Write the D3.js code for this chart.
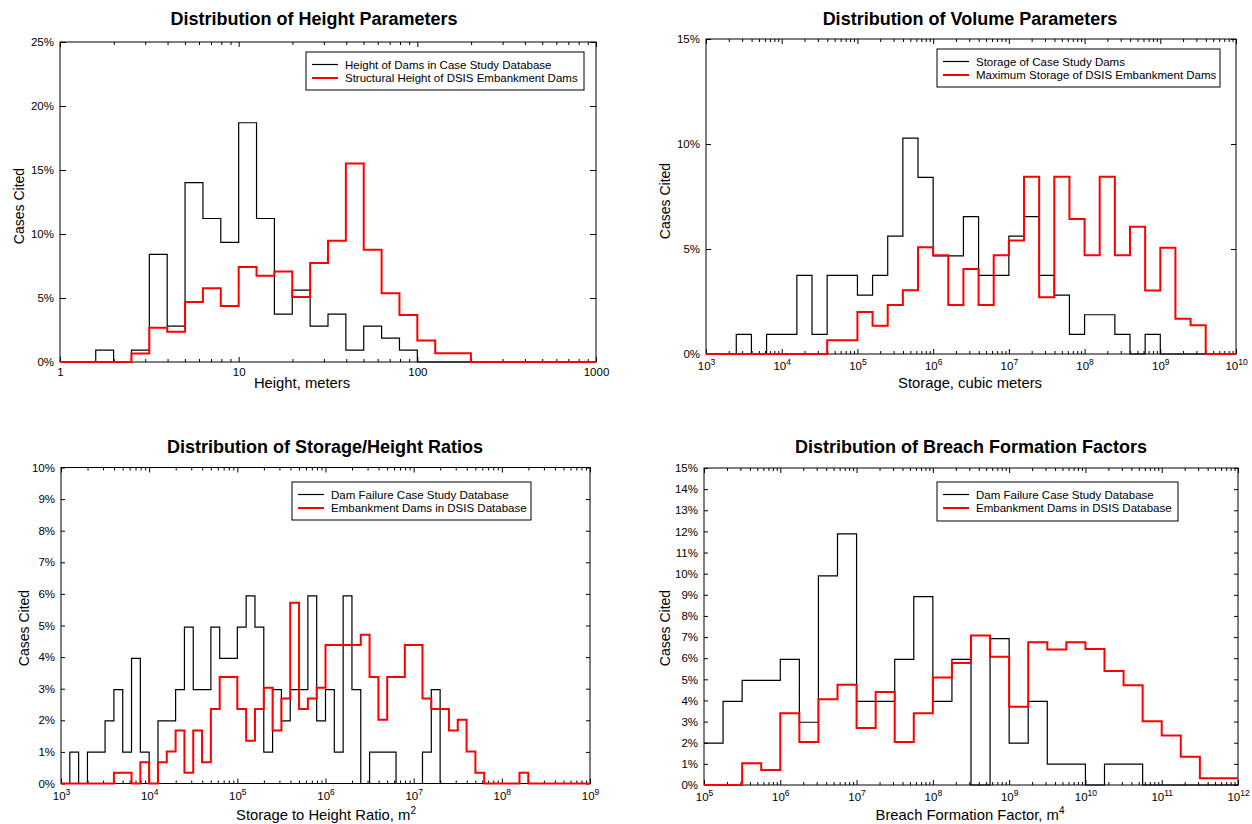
<!DOCTYPE html>
<html><head><meta charset="utf-8">
<script src="https://cdn.jsdelivr.net/npm/d3@7"></script>
<style>
body{margin:0;background:#fff;}
text{font-family:Arial,"Liberation Sans",sans-serif;fill:#000;}
</style></head><body>
<svg id="chart" width="1252" height="824"></svg>
<script>
// ---------- DATA (percent of cases per log bin) ----------
// Panel 1: Height, bins of 0.1 decade from 10^0 to 10^3
const heightCaseStudy = [0,0,0.93,0,0.93,8.41,2.80,14.02,11.21,9.35,18.69,11.21,3.74,5.61,2.80,3.74,0.93,2.80,1.87,0.93,0,0,0,0,0,0,0,0,0,0];
const heightDSIS      = [0,0,0,0,0.66,2.68,2.37,4.68,5.76,4.37,7.42,6.74,7.08,5.08,7.74,9.47,15.5,8.76,5.37,3.68,1.68,0.68,0.68,0,0,0,0,0,0,0];
// Panel 2: Storage, bins of 0.2 decade from 10^3 to 10^10
const volumeCaseStudy = [0,0,0.93,0,0.93,0.93,3.74,0.93,3.74,3.74,2.80,3.74,5.61,10.28,8.41,4.67,4.67,6.54,3.74,3.74,5.61,6.54,3.74,2.80,0.93,1.87,1.87,0.93,0,0.93,0,0,0,0,0];
const volumeDSIS      = [0,0,0,0,0,0,0,0,0.65,0.65,2.0,1.35,2.33,3.03,5.08,4.7,2.33,4.05,2.33,4.7,5.4,8.44,2.7,8.44,6.43,4.7,8.44,4.7,6.06,3.02,5.06,1.68,1.37,0,0];
// Panel 3: Storage/height ratio, bins of 0.1 decade from 10^3 to 10^9
const ratioCaseStudy  = [0,0.99,0,0.99,0.99,1.98,2.97,0.99,3.96,0.99,0,1.98,1.98,2.97,4.95,2.97,2.97,4.95,3.96,3.96,4.95,5.94,4.95,0.99,2.97,1.98,2.97,2.97,5.94,1.98,2.97,0.99,5.94,2.97,0,0.99,0.99,0.99,0,0,0,0.99,2.97,0,0,0,0,0,0,0,0,0,0,0,0,0,0,0,0,0];
const ratioDSIS       = [0,0,0,0,0,0,0.34,0.34,0,0.67,0,0.67,1.01,1.68,0.34,1.68,0.67,2.36,3.37,3.37,2.36,1.35,2.36,3.03,1.68,2.69,5.72,2.36,2.69,3.03,4.38,4.38,4.38,4.38,4.71,3.37,2.02,3.37,3.37,4.38,4.38,2.69,2.36,2.36,1.68,2.02,1.01,0.34,0,0,0,0,0.34,0,0,0,0,0,0,0];
// Panel 4: Breach formation factor, bins of 0.25 decade from 10^5 to 10^12
const breachCaseStudy = [1.98,3.96,4.95,4.95,5.94,2.97,9.90,11.88,3.96,3.96,5.94,8.91,3.96,5.94,0,6.93,1.98,3.96,0.99,0.99,0,0.99,0.99,0,0,0,0,0];
const breachDSIS      = [0,0,1.03,0.71,3.40,2.04,4.06,4.74,2.70,4.40,2.04,3.40,5.09,5.77,7.08,6.07,3.70,6.75,6.41,6.75,6.43,5.39,4.72,3.02,2.34,1.34,0.32,0.32];

const titles = ["Distribution of Height Parameters","Distribution of Volume Parameters","Distribution of Storage/Height Ratios","Distribution of Breach Formation Factors"];
const legend1 = ["Height of Dams in Case Study Database","Structural Height of DSIS Embankment Dams"];
const legend2 = ["Storage of Case Study Dams","Maximum Storage of DSIS Embankment Dams"];
const legend3 = ["Dam Failure Case Study Database","Embankment Dams in DSIS Database"];
const legend4 = ["Dam Failure Case Study Database","Embankment Dams in DSIS Database"];
const yTicks1 = [0,5,10,15,20,25];
const yTicks2 = [0,5,10,15];
const yTicks3 = [0,1,2,3,4,5,6,7,8,9,10];
const yTicks4 = [0,1,2,3,4,5,6,7,8,9,10,11,12,13,14,15];

// ---------- DRAW ----------
const svg = d3.select("#chart");

const panels = [
 {L:60,R:596,T:42,B:362, exp:[0,3], sup:false, yTicks:yTicks1, binStart:0, binStep:0.1,
  black:heightCaseStudy, red:heightDSIS, title:titles[0], tx:314, ty:25,
  xl:"Height, meters", xlx:302, xly:388, ylx:24, yly:206, leg:legend1, lx:306, ly:52, lw:278, lh:38, ytl:6},
 {L:706,R:1236,T:39,B:354, exp:[3,10], sup:true, yTicks:yTicks2, binStart:3, binStep:0.2,
  black:volumeCaseStudy, red:volumeDSIS, title:titles[1], tx:970, ty:25,
  xl:"Storage, cubic meters", xlx:970, xly:388, ylx:670, yly:201, leg:legend2, lx:937, ly:49, lw:283, lh:38, ytl:5},
 {L:61,R:590,T:467.5,B:783.5, exp:[3,9], sup:true, yTicks:yTicks3, binStart:3, binStep:0.1,
  black:ratioCaseStudy, red:ratioDSIS, title:titles[2], tx:325, ty:453,
  xl:"Storage to Height Ratio, m", xlsup:"2", xlx:326, xly:820, ylx:29, yly:628, leg:legend3, lx:292, ly:482, lw:239, lh:38, ytl:4},
 {L:704,R:1238,T:468,B:785, exp:[5,12], sup:true, yTicks:yTicks4, binStart:5, binStep:0.25,
  black:breachCaseStudy, red:breachDSIS, title:titles[3], tx:971, ty:453,
  xl:"Breach Formation Factor, m", xlsup:"4", xlx:970, xly:820, ylx:670, yly:628, leg:legend4, lx:937, ly:482, lw:241, lh:39, ytl:4}
];

panels.forEach(c => {
  const x = d3.scaleLog().domain([Math.pow(10,c.exp[0]), Math.pow(10,c.exp[1])]).range([c.L, c.R]);
  const yMax = c.yTicks[c.yTicks.length-1];
  const y = d3.scaleLinear().domain([0, yMax]).range([c.B, c.T]);
  const g = svg.append("g");

  const majors = [], minors = [];
  for (let d = c.exp[0]; d <= c.exp[1]; d++) {
    majors.push(Math.pow(10,d));
    if (d < c.exp[1]) for (let m = 2; m <= 9; m++) minors.push(m*Math.pow(10,d));
  }

  const clean = s => s.select(".domain").remove();
  g.append("g").attr("transform",`translate(0,${c.B})`)
    .call(d3.axisBottom(x).tickValues(minors).tickSizeInner(-3).tickSizeOuter(0).tickFormat(""))
    .call(clean);
  const bx = g.append("g").attr("transform",`translate(0,${c.B})`)
    .call(d3.axisBottom(x).tickValues(majors).tickSizeInner(-5).tickSizeOuter(0).tickPadding(c.sup?8:6))
    .call(clean);
  bx.selectAll("text").attr("font-size", "11.5px").attr("font-family","Arial, 'Liberation Sans', sans-serif")
    .each(function(v){
      const t = d3.select(this);
      const e = Math.round(Math.log10(v));
      if (c.sup) {
        t.text("10");
        t.append("tspan").attr("dy","-5").attr("font-size","8.5px").text(e);
      } else {
        t.text(String(v));
      }
    });
  g.append("g").attr("transform",`translate(0,${c.T})`)
    .call(d3.axisTop(x).tickValues(minors).tickSizeInner(-3).tickSizeOuter(0).tickFormat(""))
    .call(clean);
  g.append("g").attr("transform",`translate(0,${c.T})`)
    .call(d3.axisTop(x).tickValues(majors).tickSizeInner(-5).tickSizeOuter(0).tickFormat(""))
    .call(clean);
  const ly = g.append("g").attr("transform",`translate(${c.L},0)`)
    .call(d3.axisLeft(y).tickValues(c.yTicks).tickSizeInner(-c.ytl).tickSizeOuter(0).tickPadding(6).tickFormat(d => d + "%"))
    .call(clean);
  ly.selectAll("text").attr("font-size","11.5px").attr("font-family","Arial, 'Liberation Sans', sans-serif");
  g.append("g").attr("transform",`translate(${c.R},0)`)
    .call(d3.axisRight(y).tickValues(c.yTicks).tickSizeInner(-c.ytl).tickSizeOuter(0).tickFormat(""))
    .call(clean);
  g.selectAll(".tick line").attr("stroke","#000").attr("stroke-width",1);

  g.append("rect").attr("x",c.L).attr("y",c.T).attr("width",c.R-c.L).attr("height",c.B-c.T)
    .attr("fill","none").attr("stroke","#000").attr("stroke-width",1);

  const stepLine = d3.line().x(d => x(d[0])).y(d => y(d[1])).curve(d3.curveStepAfter);
  const pts = arr => {
    const p = arr.map((v,i) => [Math.pow(10, c.binStart + i*c.binStep), v]);
    p.push([Math.pow(10, c.binStart + arr.length*c.binStep), arr[arr.length-1]]);
    return p;
  };
  g.append("path").attr("d", stepLine(pts(c.black))).attr("fill","none").attr("stroke","#000").attr("stroke-width",1.2);
  g.append("path").attr("d", stepLine(pts(c.red))).attr("fill","none").attr("stroke","#ff0000").attr("stroke-width",2);

  const lg = g.append("g");
  lg.append("rect").attr("x",c.lx).attr("y",c.ly).attr("width",c.lw).attr("height",c.lh)
    .attr("fill","#fff").attr("stroke","#000").attr("stroke-width",1);
  const rows = [[c.leg[0],"#000",1.2],[c.leg[1],"#ff0000",2]];
  rows.forEach((r,i) => {
    const cy = c.ly + 12.5 + i*13.5;
    lg.append("line").attr("x1",c.lx+6).attr("x2",c.lx+32).attr("y1",cy).attr("y2",cy)
      .attr("stroke",r[1]).attr("stroke-width",r[2]);
    lg.append("text").attr("x",c.lx+39).attr("y",cy+4).attr("font-size","11.5px").text(r[0]);
  });

  svg.append("text").attr("x",c.tx).attr("y",c.ty).attr("text-anchor","middle")
    .attr("font-size","18px").attr("font-weight","bold").text(c.title);
  const xt = svg.append("text").attr("x",c.xlx).attr("y",c.xly).attr("text-anchor","middle")
    .attr("font-size","14.8px").text(c.xl);
  if (c.xlsup) xt.append("tspan").attr("dy","-6").attr("font-size","10px").text(c.xlsup);
  svg.append("text").attr("transform",`translate(${c.ylx},${c.yly}) rotate(-90)`).attr("text-anchor","middle")
    .attr("font-size","14px").text("Cases Cited");
});
</script>
</body></html>
